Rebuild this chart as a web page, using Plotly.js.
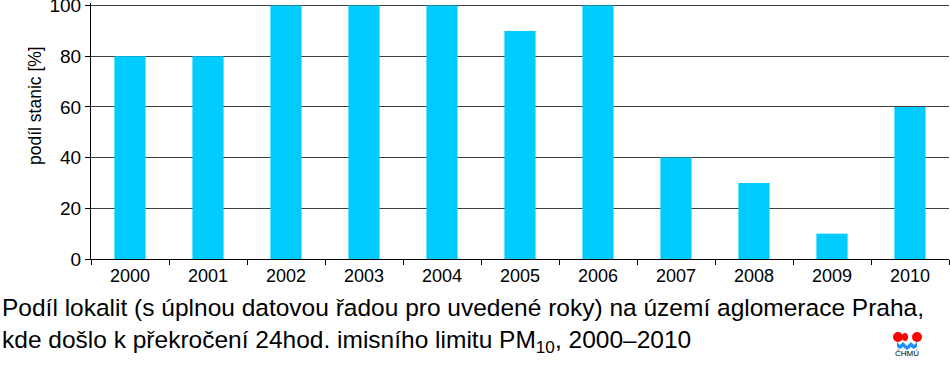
<!DOCTYPE html>
<html><head><meta charset="utf-8">
<script src="https://cdn.plot.ly/plotly-3.0.1.min.js"></script>
<style>body{margin:0;background:#fff}#c{width:950px;height:367px}</style>
</head><body><div id="c"></div>
<script>
const years = ['2000','2001','2002','2003','2004','2005','2006','2007','2008','2009','2010'];
const share = [80, 80, 100, 100, 100, 90, 100, 40, 30, 10, 60];
const yTicks = [0, 20, 40, 60, 80, 100];
const yTitle = 'podíl stanic [%]';
const caption = 'Podíl lokalit (s úplnou datovou řadou pro uvedené roky) na území aglomerace Praha,<br>kde došlo k překročení 24hod. imisního limitu PM<sub>10</sub>, 2000–2010';
const logoText = 'ČHMÚ';

const F = 'Arial, "Liberation Sans", sans-serif';
const L = 91, R = 949, T = 3, B = 259;
const px = v => (v - L) / (R - L), py = v => (B - v) / (B - T);
const wave = (function(){
  const p = (x, y) => px(x).toFixed(5) + ',' + py(y).toFixed(5);
  return 'M' + p(897,342) + ' L' + p(900,345) + ' L' + p(903,342) + ' L' + p(907,346) + ' L' + p(911,342) + ' L' + p(914,345) + ' L' + p(917,342) +
    ' L' + p(917,347) + ' L' + p(914,349) + ' L' + p(911,347) + ' L' + p(907,350) + ' L' + p(903,347) + ' L' + p(900,349) + ' L' + p(897,347) + ' Z';
})();
Plotly.newPlot('c', [{
  type: 'bar', x: years, y: share,
  marker: {color: '#00CCFF', line: {width: 0}},
  hoverinfo: 'none'
}], {
  width: 950, height: 367,
  margin: {l: L, r: 950 - R, t: T, b: 367 - B},
  paper_bgcolor: '#fff', plot_bgcolor: '#fff',
  bargap: 0.6,
  showlegend: false,
  font: {family: F, color: '#000'},
  xaxis: {
    type: 'category', tickson: 'boundaries', ticks: 'outside', ticklen: 5, tickcolor: '#000',
    showline: true, linecolor: '#000', linewidth: 1, showgrid: false,
    tickfont: {size: 18, family: F, color: '#000'}, zeroline: false
  },
  yaxis: {
    range: [0, 101], tickvals: yTicks, ticks: 'outside', ticklen: 5, tickcolor: '#000',
    showline: true, linecolor: '#000', linewidth: 1, ticklabeloverflow: 'allow',
    showgrid: true, gridcolor: '#404040', gridwidth: 1, zeroline: false,
    tickfont: {size: 19, family: F, color: '#000'}
  },
  annotations: [
    {xref: 'paper', yref: 'paper', x: px(35), y: py(106), xanchor: 'center', yanchor: 'middle',
     text: yTitle, textangle: -90, showarrow: false,
     font: {size: 17.5, family: F, color: '#000'}},
    {xref: 'paper', yref: 'paper', x: px(0), y: py(292), xanchor: 'left', yanchor: 'top',
     text: caption, showarrow: false, align: 'left',
     font: {size: 24.5, family: F, color: '#000'}},
    {xref: 'paper', yref: 'paper', x: px(907), y: py(360), xanchor: 'center', yanchor: 'bottom',
     text: logoText, showarrow: false, font: {size: 8, family: F, color: '#000'}}
  ],
  shapes: [
    {type: 'circle', xref: 'paper', yref: 'paper', fillcolor: '#FF0000', line: {width: 0},
     x0: px(893), x1: px(903), y0: py(342), y1: py(332)},
    {type: 'circle', xref: 'paper', yref: 'paper', fillcolor: '#FF0000', line: {width: 0},
     x0: px(902), x1: px(908), y0: py(341), y1: py(333)},
    {type: 'circle', xref: 'paper', yref: 'paper', fillcolor: '#FF0000', line: {width: 0},
     x0: px(912), x1: px(922), y0: py(342), y1: py(332)},
    {type: 'path', xref: 'paper', yref: 'paper', fillcolor: '#1E90FF', line: {width: 0}, path: wave}
  ]
}, {displayModeBar: false, staticPlot: true});
</script></body></html>
